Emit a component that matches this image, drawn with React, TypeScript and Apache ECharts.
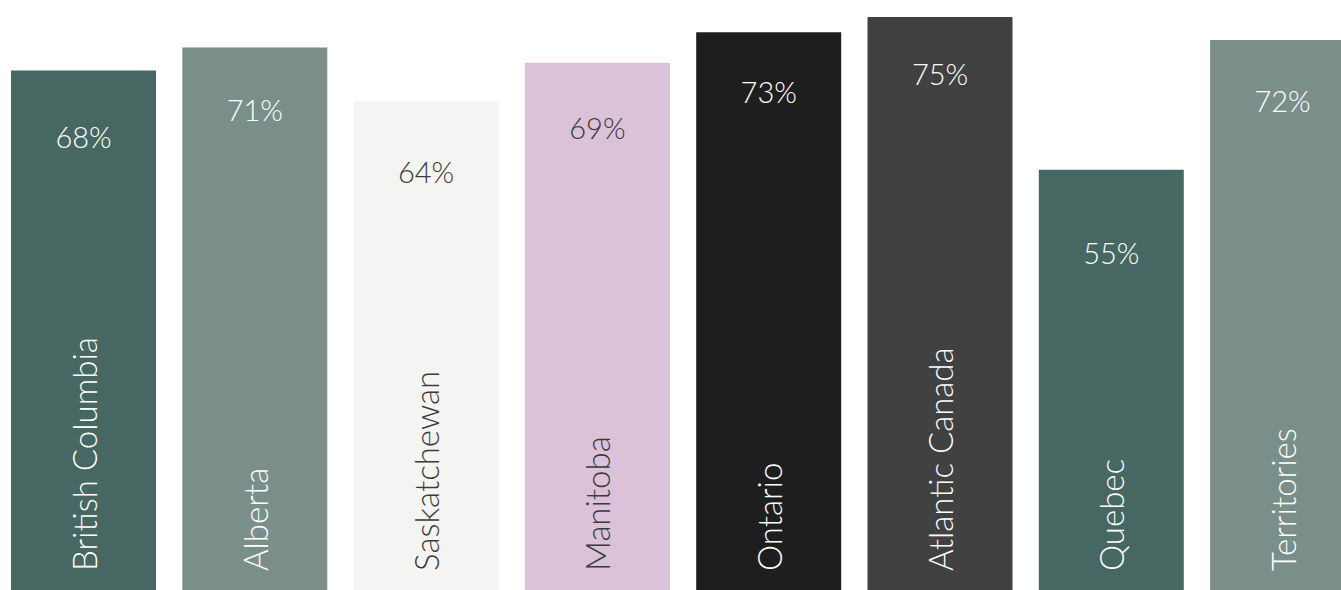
import React, { useEffect, useRef } from "react";
import * as echarts from "echarts";

const categories = [
  "British Columbia",
  "Alberta",
  "Saskatchewan",
  "Manitoba",
  "Ontario",
  "Atlantic Canada",
  "Quebec",
  "Territories",
];
const values = [68, 71, 64, 69, 73, 75, 55, 72];
const barColors = [
  "#476762",
  "#7a8f8a",
  "#f4f4f2",
  "#dbc2d8",
  "#1f1e1f",
  "#414141",
  "#476762",
  "#7a8f8a",
];
const textColors = [
  "#ffffff",
  "#ffffff",
  "#3a3a3a",
  "#3a3a3a",
  "#ffffff",
  "#ffffff",
  "#ffffff",
  "#ffffff",
];

const FONT = "Lato, 'Open Sans', sans-serif";

export default function App() {
  const ref = useRef<HTMLDivElement>(null);

  useEffect(() => {
    if (!ref.current) return;
    const chart = echarts.init(ref.current, undefined, { renderer: "svg" });
    chart.setOption({
      animation: false,
      backgroundColor: "#ffffff",
      grid: {
        left: -2.15,
        right: -27.25,
        top: 17,
        bottom: 0,
        containLabel: false,
        outerBoundsMode: "none",
      },
      xAxis: {
        type: "category",
        data: categories,
        show: false,
      },
      yAxis: [
        { type: "value", min: 0, max: 75, show: false },
        { type: "value", min: 17.29, max: 81.31, show: false },
      ],
      series: [
        {
          type: "bar",
          barWidth: 145,
          data: values.map((v, i) => ({
            value: v,
            itemStyle: { color: barColors[i] },
            label: { color: textColors[i] },
          })),
          label: {
            show: true,
            formatter: "{b}",
            position: "insideBottom",
            rotate: 90,
            align: "left",
            verticalAlign: "middle",
            distance: 19,
            fontFamily: FONT,
            fontWeight: 300,
            fontSize: 33,
          },
        },
        {
          type: "scatter",
          yAxisIndex: 1,
          symbolSize: 0,
          itemStyle: { opacity: 1 },
          data: values.map((v, i) => ({
            value: v,
            label: { color: textColors[i] },
          })),
          label: {
            show: true,
            position: "inside",
            formatter: "{c}%",
            fontFamily: FONT,
            fontWeight: 300,
            fontSize: 29,
          },
        },
      ],
    });
    return () => chart.dispose();
  }, []);

  return (
    <div
      ref={ref}
      style={{ position: "absolute", left: 0, top: 0, width: 1341, height: 590 }}
    />
  );
}
